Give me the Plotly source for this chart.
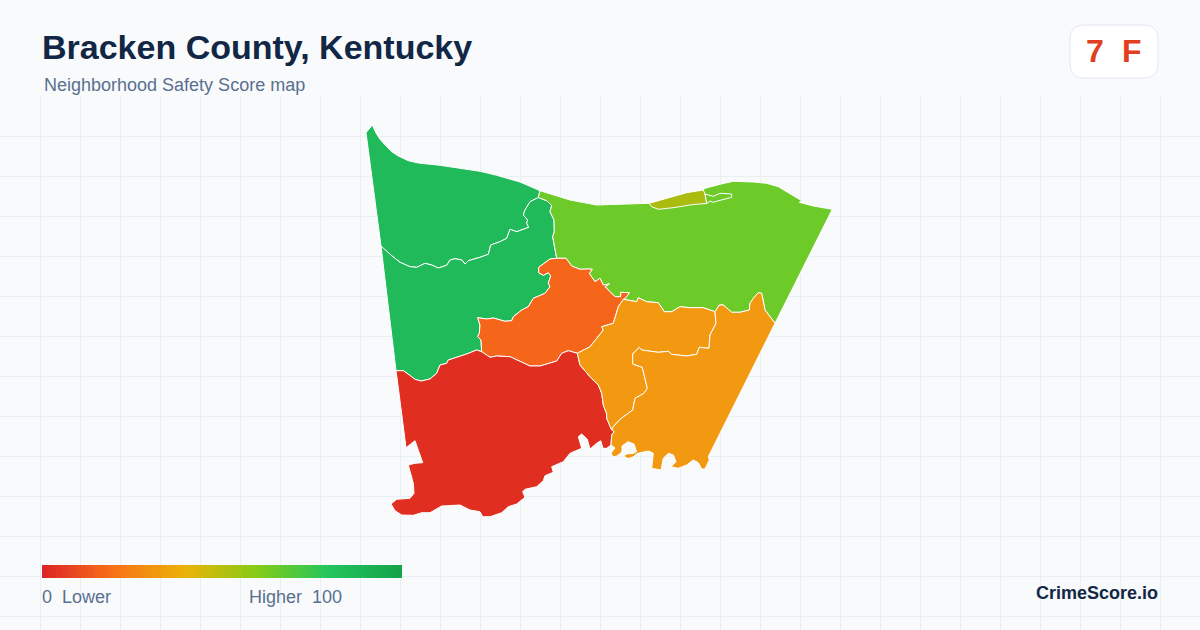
#!/usr/bin/env python3
"""Bracken County, Kentucky - neighborhood safety score map"""
import plotly.graph_objects as go

W, H = 1200, 630
GRID_TOP = 96

# boundary pieces of the tracts, shared so that neighbours line up
GREEN_NORTH = [(366, 132.7), (372.3, 125), (376, 133), (380, 139.3), (386, 146), (391.7, 151.7), (398.3, 156), (408.3, 160.7),
               (418.3, 163), (440, 165.3), (460, 168.3), (480, 171.3), (496.7, 175.3), (520, 182), (540, 190.7)]
GREEN_DIVIDE = [(538.3, 197.5), (530, 201.7), (525, 210), (523.3, 215), (527.7, 220), (526.7, 223.3), (528.7, 227.3),
                (516.7, 231.7), (510, 229.3), (506.7, 238.3), (500, 241.7), (490.7, 245), (488.3, 254.3), (480, 257.3),
                (468.3, 260.7), (465, 264), (461.7, 260), (455, 258.7), (450, 260), (446.7, 265.3), (438.3, 268),
                (431.7, 265), (425, 263.3), (416.7, 267.3), (410, 266.7), (400, 262.3), (391.7, 255.7), (386.7, 251.7),
                (381, 246)]
GREEN_LIME = [(538.3, 197.5), (546.7, 200.7), (551.7, 205.5), (550, 211.7), (554, 220), (554.3, 231.7), (552.7, 236.7),
              (554.5, 247), (556.7, 258.3)]
GREEN_ORANGE = [(556.7, 258.3), (550, 259), (543.3, 264), (538.7, 267.3), (538.7, 272.7), (543.3, 275.3), (548.3, 272.7),
                (550.7, 276), (548.3, 283.3), (550, 286.7), (545, 293.3), (533.3, 298.3), (528.3, 306.7), (521.7, 310),
                (513.3, 316.7), (511.7, 320.7), (505, 321.3), (493.3, 318), (486.7, 319), (477.7, 317.7), (480, 325),
                (479.3, 333.3), (477.7, 336.7), (481, 340), (481.7, 351.7)]
GREEN_RED = [(481.7, 351.7), (476.7, 350), (466.7, 354), (448.3, 360), (446.7, 363.3), (440, 365), (436.7, 373.3),
             (430, 379), (421, 381), (415, 379.3), (409.3, 375), (403.3, 370.7), (396, 370.7)]
ORANGE_RED = [(481.7, 351.7), (490, 357.3), (496.7, 356), (510, 356.7), (530, 366), (540, 366), (556.7, 361),
              (561.7, 353.3), (568.3, 350.7), (577.3, 353.3)]
ORANGE_AMBER = [(577.3, 353.3), (590, 346.7), (595, 340), (603.3, 330), (601.7, 326.7), (613.3, 323.3), (618.3, 306.7),
                (623.3, 299.3)]
ORANGE_LIME = [(556.7, 258.3), (566, 258.3), (571.7, 266), (580, 269.3), (588.3, 269), (592.3, 269.3), (589.3, 273.3),
               (595, 281.7), (600, 278.3), (603.3, 285), (609.3, 284), (605, 286.7), (610, 291.7), (615, 296.7),
               (620.7, 296.7), (620.7, 292.3), (629.3, 292.7), (626.7, 296.7), (623.3, 299.3)]
RED_AMBER = [(577.3, 353.3), (580, 365), (590, 376.7), (598.3, 385), (601.7, 393.3), (603.3, 405), (606.7, 414),
             (606.7, 418.3), (611.7, 430)]
RED_SOUTH = [(611.7, 430), (614.3, 431.7), (611.7, 435), (611, 445), (606.7, 448.3), (603, 448.3), (600.7, 440.7),
             (596.7, 443.3), (590, 449), (587.3, 439.3), (581.7, 434), (578.3, 436.7), (581.7, 448.3), (570, 453.3),
             (563.3, 461.7), (551.7, 466.7), (553.3, 472.3), (545, 475.7), (543.3, 480.7), (536.7, 486.7), (525, 489.3),
             (522.7, 491.7), (525, 497.3), (516.7, 504), (508.3, 506.7), (501.7, 512.7), (490, 516.7), (482.7, 516.7),
             (480, 511.7), (470, 510), (460, 505), (441.7, 506), (430, 512.7), (421.7, 512.7), (413.3, 515.3),
             (401.7, 515), (395, 510.7), (391, 504), (396.7, 499.3), (410, 498.3), (414, 493.3), (413.3, 483.3),
             (408.3, 465), (415, 463.3), (422.7, 462.7), (415, 440.7), (406, 447.7), (397.3, 380)]
LIME_NORTH = [(540, 190.7), (570, 200), (596.7, 205), (626.7, 203.7), (649, 203.3), (673.3, 196), (686.7, 192.7),
              (703.3, 190), (705, 188.3), (720, 184.3), (733.3, 181.3), (753.3, 182), (766.7, 183.3), (778.3, 186.7),
              (786.7, 191.7), (796.7, 198.3), (801.7, 200.7), (799.3, 202.3), (813.3, 206), (832.3, 209.3)]
LIME_AMBER_W = [(623.3, 299.3), (636.7, 301.7), (638.3, 297.7), (646.7, 301.7), (658.3, 302.7), (664.3, 311.7),
                (671.7, 311.7), (680, 306.7), (690, 307.7), (703.3, 307.7), (715, 311.7)]
LIME_AMBER_E = [(715, 311.7), (719.3, 305), (723.3, 305), (731.7, 312.3), (740, 312.3), (749.3, 310), (750, 303.3),
                (753.3, 298.3), (758.3, 292.7), (761.7, 293.3), (765, 310), (775, 323.3)]
AMBER_DIVIDE = [(715, 311.7), (716, 323.3), (710, 335), (709, 348.3), (699.3, 347.3), (696.7, 354.3), (686.7, 356),
                (671.7, 354.3), (668.3, 351.3), (658.3, 352.3), (641.7, 350), (639.3, 347.3), (632.7, 354), (632.7, 364),
                (642.3, 367.3), (647.3, 388.3), (644, 393.3), (635, 398.3), (632.7, 410), (620, 419.3), (613.3, 426.7),
                (611.7, 430)]
AMBER_SOUTH = [(611.7, 430), (614.3, 431.7), (611.7, 435), (611, 445), (615, 448), (611, 453), (613, 457), (617, 456),
               (622, 452), (622, 446), (628, 441.7), (634, 444), (636.5, 451.5), (633, 453.5), (626, 454), (624, 456.5),
               (628, 458.5), (633, 457), (637, 453.5), (648.3, 451), (653.3, 453.3), (652.7, 460), (651.7, 468.3),
               (661, 470), (661.7, 466.7), (663.3, 458.3), (668.3, 453.3), (673.3, 455), (676, 461.7), (671, 466.7),
               (678.3, 468.3), (686.7, 465), (693.3, 460), (698.3, 462.7), (701.7, 469), (705, 469), (709.3, 460),
               (708.3, 456.7)]
OLIVE_TRACT = [(649, 203.3), (673.3, 196), (686.7, 192.7), (703.3, 190), (705, 194), (706.7, 203.5), (693.3, 204.5),
               (673.3, 207.7), (658.3, 209.3), (651.7, 206.7)]
LIME_SPIT = [(705, 194), (713.3, 196.3), (720, 193.3), (731.7, 194), (731.7, 197.3), (720, 200), (712.7, 202.3),
             (710, 201), (706.7, 203.5)]

# score ramp of the legend
RAMP_STOPS = [0, 0.2, 0.4, 0.6, 0.8, 1]
RAMP_COLORS = ["#dc2626", "#f97316", "#eab308", "#84cc16", "#22c55e", "#16a34a"]
RAMP_VALUES = list(range(0, 101))
RAMP_X = [42 + 360 * i / 101 for i in range(102)]  # cell edges
RAMP_Y = [565, 578]

RED = "#e02e20"
ORANGE = "#f5661a"
AMBER = "#f39911"
LIME = "#6ccb28"
OLIVE = "#acbc0e"
GREEN = "#21ba5a"
NAVY = "#112745"
SLATE = "#5a7090"


def join(*parts):
    pts = [p for part in parts for p in part]
    return [p[0] for p in pts], [p[1] for p in pts]


tracts = [
    (GREEN, join(GREEN_NORTH, GREEN_DIVIDE)),
    (GREEN, join(GREEN_DIVIDE[::-1], GREEN_LIME, GREEN_ORANGE, GREEN_RED)),
    (LIME, join(LIME_NORTH, LIME_AMBER_E[::-1], LIME_AMBER_W[::-1], ORANGE_LIME[::-1], GREEN_LIME[::-1])),
    (OLIVE, join(OLIVE_TRACT)),
    (LIME, join(LIME_SPIT)),
    (ORANGE, join(ORANGE_LIME, ORANGE_AMBER[::-1], ORANGE_RED[::-1], GREEN_ORANGE[::-1])),
    (RED, join(GREEN_RED[::-1], ORANGE_RED, RED_AMBER, RED_SOUTH)),
    (AMBER, join(LIME_AMBER_W, AMBER_DIVIDE, RED_AMBER[::-1], ORANGE_AMBER)),
    (AMBER, join(LIME_AMBER_E, AMBER_SOUTH[::-1], AMBER_DIVIDE[::-1])),
]

fig = go.Figure()

for color, (xs, ys) in tracts:
    fig.add_trace(go.Scatter(x=xs + xs[:1], y=ys + ys[:1], mode="lines", fill="toself", fillcolor=color,
                             line=dict(color="white", width=1), hoverinfo="skip", showlegend=False))

fig.add_trace(go.Heatmap(x=RAMP_X, y=RAMP_Y, z=[RAMP_VALUES], zmin=0, zmax=100,
                         colorscale=[[s, c] for s, c in zip(RAMP_STOPS, RAMP_COLORS)],
                         showscale=False, hoverinfo="skip"))


def px(x):
    return x / W


def py(y):
    return 1 - y / H


def label(text, x, y, size, color, bold=False, anchor="left"):
    fig.add_annotation(text=f"<b>{text}</b>" if bold else text, x=px(x), y=py(y), xref="paper", yref="paper",
                       xanchor=anchor, yanchor="middle", showarrow=False, borderpad=0,
                       font=dict(family="Liberation Sans", size=size, color=color))


label("Bracken County, Kentucky", 41, 47, 34, NAVY, bold=True)
label("Neighborhood Safety Score map", 43, 85, 18, SLATE)
label("7", 1095, 51, 32, "#e0401f", bold=True, anchor="center")
label("F", 1132, 51, 32, "#e0401f", bold=True, anchor="center")
label("0\u00a0\u00a0Lower", 41, 597, 18, SLATE)
label("Higher\u00a0\u00a0100", 343, 597, 18, SLATE, anchor="right")
label("CrimeScore.io", 1159, 593, 18, NAVY, bold=True, anchor="right")

# badge, rounded rectangle
bx0, bx1, by0, by1, r = px(1070), px(1158), py(25), py(78), 14
rx, ry = r / W, r / H
fig.add_shape(type="path", xref="paper", yref="paper", fillcolor="white", line=dict(color="#e2e8f0", width=1),
              path=f"M {bx0 + rx} {by0} L {bx1 - rx} {by0} Q {bx1} {by0} {bx1} {by0 - ry} "
                   f"L {bx1} {by1 + ry} Q {bx1} {by1} {bx1 - rx} {by1} "
                   f"L {bx0 + rx} {by1} Q {bx0} {by1} {bx0} {by1 + ry} "
                   f"L {bx0} {by0 - ry} Q {bx0} {by0} {bx0 + rx} {by0} Z")

fig.update_layout(width=W, height=H, margin=dict(l=0, r=0, t=0, b=0), paper_bgcolor="#f8fafc",
                  plot_bgcolor="#f8fafc", showlegend=False,
                  xaxis=dict(range=[0, W], domain=[0, 1], tick0=0.5, dtick=40, gridcolor="#e8f0f4", gridwidth=1,
                             showticklabels=False, zeroline=False, showline=False, ticks=""),
                  yaxis=dict(range=[H, GRID_TOP], domain=[0, 1 - GRID_TOP / H], tick0=96.5, dtick=40,
                             gridcolor="#e8f0f4", gridwidth=1, showticklabels=False, zeroline=False, showline=False,
                             ticks=""))

# the page must not keep the browser's default body margin
fig.write_html("out.html", config={"displayModeBar": False},
               post_script="document.body.style.margin='0';document.body.style.background='#f8fafc';")
